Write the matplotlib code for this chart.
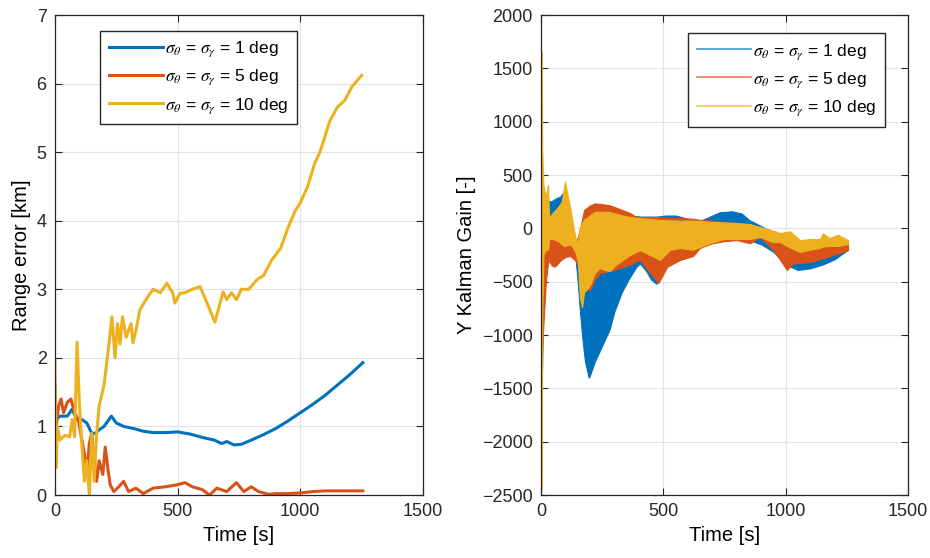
import matplotlib.pyplot as plt
import numpy as np

plt.rcParams['font.family'] = ['Liberation Sans', 'DejaVu Sans']
plt.rcParams['mathtext.fontset'] = 'stix'

colors = ['#0072BD', '#D95319', '#EDB120']
labels = [r'$\sigma_{\theta}$ = $\sigma_{\gamma}$ = 1 deg',
          r'$\sigma_{\theta}$ = $\sigma_{\gamma}$ = 5 deg',
          r'$\sigma_{\theta}$ = $\sigma_{\gamma}$ = 10 deg']

# range error [km] per run
t_err1 = [0, 5, 20, 50, 70, 90, 110, 130, 150, 165, 180, 200, 230, 250, 280, 320, 360, 400,
          450, 500, 550, 600, 650, 680, 700, 730, 760, 800, 850, 900, 950, 1000, 1050, 1100,
          1150, 1200, 1255]
err1 = [1.6, 1.1, 1.15, 1.15, 1.25, 1.1, 1.1, 1.05, 0.9, 0.9, 0.95, 1.0, 1.15, 1.05, 1.0, 0.97,
        0.93, 0.91, 0.91, 0.92, 0.89, 0.84, 0.8, 0.75, 0.78, 0.73, 0.74, 0.8, 0.88, 0.97, 1.08,
        1.2, 1.32, 1.45, 1.6, 1.75, 1.93]

t_err5 = [0, 5, 15, 25, 35, 50, 65, 80, 95, 110, 120, 130, 140, 150, 160, 170, 180, 195, 205,
          215, 225, 240, 260, 280, 300, 330, 360, 400, 450, 500, 530, 560, 600, 630, 660, 700,
          740, 770, 800, 830, 870, 900, 950, 1000, 1050, 1100, 1150, 1255]
err5 = [1.5, 1.0, 1.3, 1.4, 1.2, 1.35, 1.4, 1.2, 1.1, 0.8, 0.6, 0.3, 0.75, 0.9, 0.5, 0.2, 0.5,
        0.3, 0.7, 0.4, 0.15, 0.05, 0.12, 0.2, 0.05, 0.1, 0.02, 0.1, 0.12, 0.15, 0.18, 0.12,
        0.08, 0.0, 0.1, 0.05, 0.18, 0.05, 0.12, 0.05, 0.01, 0.02, 0.02, 0.03, 0.05, 0.06, 0.06,
        0.06]

t_err10 = [0, 5, 10, 20, 40, 60, 70, 80, 90, 100, 110, 120, 130, 140, 150, 160, 170, 180, 200,
           220, 232, 245, 255, 265, 275, 290, 310, 318, 330, 346, 380, 400, 430, 456, 480, 489,
           509, 530, 560, 591, 620, 652, 685, 700, 720, 740, 760, 790, 823, 850, 884, 920, 950,
           980, 1000, 1030, 1060, 1080, 1120, 1150, 1182, 1210, 1250]
err10 = [1.95, 0.4, 1.0, 0.8, 0.87, 0.85, 1.1, 0.85, 2.23, 1.3, 0.7, 0.2, 0.5, 0.0, 0.9, 0.2,
         0.9, 1.3, 1.6, 2.2, 2.6, 2.0, 2.5, 2.2, 2.6, 2.3, 2.5, 2.22, 2.4, 2.7, 2.9, 3.0, 2.95,
         3.09, 2.95, 2.8, 2.94, 2.95, 3.0, 3.04, 2.8, 2.52, 2.96, 2.85, 2.95, 2.85, 3.0, 3.0,
         3.14, 3.2, 3.43, 3.6, 3.9, 4.15, 4.26, 4.5, 4.85, 5.0, 5.45, 5.65, 5.76, 5.95, 6.12]

# Y Kalman gain: upper / lower envelope of the oscillating gain per run
t_k1 = [0, 3, 10, 20, 40, 60, 80, 95, 110, 120, 130, 140, 150, 160, 170, 180, 195, 200, 220,
        250, 280, 300, 330, 360, 390, 405, 430, 450, 472, 490, 510, 550, 600, 650, 700, 730,
        780, 820, 850, 900, 950, 1000, 1050, 1100, 1150, 1200, 1255]
k1_hi = [300, 300, 280, 270, 250, 280, 300, 350, 200, 50, -100, -150, -150, -50, 0, 120, 170,
         180, 200, 200, 170, 150, 130, 120, 115, 110, 110, 110, 110, 115, 120, 120, 90, 70, 120,
         150, 160, 140, 80, 20, -40, -130, -200, -200, -180, -150, -150]
k1_lo = [-2450, -1500, -600, -100, -80, -50, -80, -80, -100, -130, -150, -250, -500, -800,
         -1050, -1250, -1400, -1380, -1250, -1100, -950, -780, -600, -470, -360, -330, -400,
         -480, -520, -420, -250, -200, -150, -130, -110, -100, -100, -100, -110, -150, -220,
         -340, -390, -375, -340, -290, -200]

t_k5 = [0, 3, 10, 20, 30, 45, 57, 80, 100, 120, 140, 151, 165, 176, 200, 220, 241, 282, 323,
        364, 391, 405, 446, 480, 516, 568, 621, 650, 700, 750, 800, 854, 895, 950, 1005, 1030,
        1100, 1170, 1255]
k5_hi = [400, 200, 0, -60, -80, -80, -90, -60, -80, -100, -150, -80, 50, 172, 215, 234, 230,
         216, 180, 144, 106, 106, 106, 106, 100, 95, 90, 80, 70, 60, 50, 40, 0, -60, -120, -150,
         -150, -130, -130]
k5_lo = [-2400, -1215, -900, -500, -300, -350, -360, -300, -268, -260, -300, -350, -450, -550,
         -578, -480, -420, -400, -372, -340, -310, -297, -419, -513, -360, -297, -260, -184,
         -140, -120, -110, -140, -81, -203, -390, -330, -316, -268, -203]

t_k10 = [0, 3, 5, 10, 20, 29, 33, 50, 70, 85, 98, 110, 125, 140, 150, 159, 168, 176, 192, 204,
         220, 241, 260, 282, 302, 323, 364, 405, 446, 486, 527, 568, 621, 650, 703, 750, 800,
         854, 895, 948, 977, 1018, 1059, 1100, 1140, 1152, 1180, 1214, 1255]
k10_hi = [1650, 1650, 750, 400, 300, 406, 106, 150, 200, 250, 440, 300, 120, -80, -150, 13,
          50, 80, 106, 130, 153, 155, 155, 153, 140, 125, 106, 95, 88, 78, 75, 72, 72, 70, 60,
          55, 50, 40, 13, -20, -44, -28, -110, -100, -100, -47, -90, -60, -110]
k10_lo = [-2450, -2450, -800, -250, -200, -200, -100, -100, -120, -150, -170, -150, -160, -220,
          -300, -650, -740, -600, -560, -513, -420, -372, -390, -400, -350, -315, -250, -203,
          -250, -297, -203, -185, -200, -175, -128, -100, -100, -100, -81, -128, -128, -180,
          -222, -200, -184, -170, -165, -165, -147]

fig = plt.figure(figsize=(9.3, 5.58), dpi=100)
ax1 = fig.add_axes([0.0591, 0.1129, 0.3957, 0.8602])
ax2 = fig.add_axes([0.5817, 0.1129, 0.3946, 0.8602])

ax1.plot(t_err1, err1, color=colors[0], lw=2.2, label=labels[0])
ax1.plot(t_err5, err5, color=colors[1], lw=2.2, label=labels[1])
ax1.plot(t_err10, err10, color=colors[2], lw=2.2, label=labels[2])
ax1.set_xlim(0, 1500)
ax1.set_ylim(0, 7)
ax1.set_xticks([0, 500, 1000, 1500])
ax1.set_ylabel('Range error [km]', fontsize=14.5)
ax1.set_xlabel('Time [s]', fontsize=14.5)
ax1.legend(loc='upper left', bbox_to_anchor=(0.1, 0.985), fontsize=12.5, handlelength=3.1,
           handletextpad=0.1, labelspacing=0.5, borderpad=0.5, fancybox=False,
           edgecolor='#262626', framealpha=1.0)

bands = [(t_k1, k1_hi, k1_lo), (t_k5, k5_hi, k5_lo), (t_k10, k10_hi, k10_lo)]
for (t, hi, lo), c, lab in zip(bands, colors, labels):
    ax2.fill_between(t, lo, hi, facecolor=c, edgecolor=c, lw=0.8)
    ax2.plot([], [], color=c, lw=1.2, alpha=0.75, label=lab)
ax2.set_xlim(0, 1500)
ax2.set_ylim(-2500, 2000)
ax2.set_xticks([0, 500, 1000, 1500])
ax2.set_yticks(np.arange(-2500, 2001, 500))
ax2.set_ylabel('Y Kalman Gain [-]', fontsize=14.5)
ax2.set_xlabel('Time [s]', fontsize=14.5)
ax2.legend(loc='upper right', bbox_to_anchor=(0.96, 0.98), fontsize=12.5,
           handlelength=3.1, handletextpad=0.1, labelspacing=0.5, borderpad=0.5,
           fancybox=False, edgecolor='#262626', framealpha=1.0)

for ax in (ax1, ax2):
    ax.grid(True, color='#e3e3e3', lw=0.8)
    ax.set_axisbelow(True)
    ax.tick_params(direction='in', length=5, width=0.8, labelsize=13, colors='#262626',
                   top=True, right=True, pad=6)
    for s in ax.spines.values():
        s.set_color('#262626')
        s.set_linewidth(0.9)

plt.savefig('out.png', dpi=100)
